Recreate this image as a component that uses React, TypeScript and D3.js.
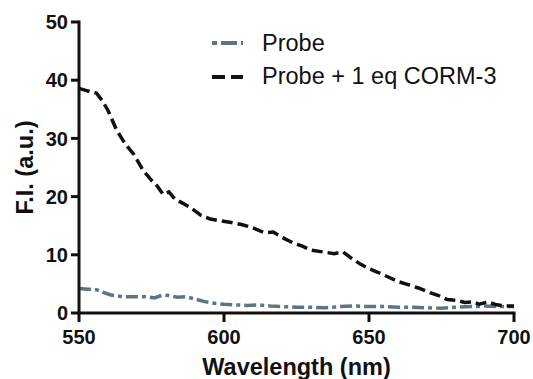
import * as d3 from "d3";

const wavelengthsCorm = [
  550, 552, 554, 556, 558, 560, 563, 566, 569, 572, 575, 577, 579, 581, 583,
  586, 589, 592, 595, 598, 602, 606, 609, 612, 614, 617, 620, 624, 627, 630,
  634, 638, 641, 644, 647, 650, 653, 657, 660, 664, 667, 671, 674, 677, 680,
  683, 686, 688, 691, 694, 697, 700,
];
const valuesCorm = [
  38.6, 38.3, 38.0, 37.8, 36.5, 34.8, 31.4, 29.0, 27.2, 24.6, 22.8, 21.8, 20.4,
  20.8, 19.6, 18.8, 17.9, 16.8, 16.2, 15.9, 15.6, 15.2, 14.8, 14.2, 13.8, 13.9,
  13.0, 12.0, 11.5, 10.8, 10.5, 10.2, 10.5, 9.4, 8.4, 7.6, 7.0, 6.1, 5.4, 4.8,
  4.3, 3.5, 3.0, 2.3, 2.2, 1.8, 1.9, 1.5, 1.9, 1.4, 1.2, 1.2,
];

const wavelengthsProbe = [
  550, 553, 556, 558, 561, 565, 569, 573, 576, 579, 581, 584, 587, 590, 593,
  596, 600, 604, 608, 612, 616, 620, 625, 630, 635, 640, 645, 650, 655, 660,
  665, 670, 675, 680, 685, 690, 695, 700,
];
const valuesProbe = [
  4.2, 4.1, 4.0, 3.6, 3.1, 2.8, 2.8, 2.8, 2.6, 3.1, 3.0, 2.7, 2.8, 2.4, 2.0,
  1.7, 1.5, 1.4, 1.3, 1.4, 1.2, 1.1, 1.0, 1.0, 0.9, 1.1, 1.2, 1.1, 1.1, 1.0,
  1.0, 0.9, 0.8, 1.0, 1.1, 1.2, 1.1, 1.1,
];

const xTicks = [550, 600, 650, 700];
const yTicks = [0, 10, 20, 30, 40, 50];
const seriesNames = ["Probe", "Probe + 1 eq CORM-3"];

const width = 533;
const height = 379;
const margin = { top: 22, right: 19, bottom: 66, left: 79 };
const font = "'Liberation Sans', Arial, sans-serif";
const probeColor = "#5f7482";

export default function App() {
  const x = d3
    .scaleLinear()
    .domain([550, 700])
    .range([margin.left, width - margin.right]);
  const y = d3
    .scaleLinear()
    .domain([0, 50])
    .range([height - margin.bottom, margin.top]);

  const line = d3
    .line<[number, number]>()
    .x((d) => x(d[0]))
    .y((d) => y(d[1]));

  const cormPath = line(wavelengthsCorm.map((w, i) => [w, valuesCorm[i]])) || "";
  const probePath = line(wavelengthsProbe.map((w, i) => [w, valuesProbe[i]])) || "";

  const x0 = x(550);
  const y0 = y(0);

  return (
    <svg
      width={width}
      height={height}
      style={{ position: "absolute", left: 0, top: 0, background: "#fff" }}
      fontFamily={font}
    >
      {/* data */}
      <path
        d={probePath}
        fill="none"
        stroke={probeColor}
        strokeWidth={3.5}
        strokeDasharray="12 4 4 4"
      />
      <path
        d={cormPath}
        fill="none"
        stroke="#111"
        strokeWidth={3.5}
        strokeDasharray="11 5"
      />

      {/* y axis */}
      <line x1={x0} x2={x0} y1={y(50) - 1.5} y2={y0 + 1.5} stroke="#111" strokeWidth={3} />
      {yTicks.map((t) => (
        <g key={t} transform={`translate(0, ${y(t)})`}>
          <line x1={x0 - 8} x2={x0} stroke="#111" strokeWidth={3} />
          <text
            x={x0 - 11}
            dy="0.36em"
            textAnchor="end"
            fontSize={20}
            fontWeight="bold"
            fill="#111"
          >
            {t}
          </text>
        </g>
      ))}

      {/* x axis */}
      <line x1={x0 - 1.5} x2={x(700) + 1.5} y1={y0} y2={y0} stroke="#111" strokeWidth={3} />
      {xTicks.map((t) => (
        <g key={t} transform={`translate(${x(t)}, 0)`}>
          <line y1={y0} y2={y0 + 9} stroke="#111" strokeWidth={3} />
          <text
            y={y0 + 31}
            textAnchor="middle"
            fontSize={20}
            fontWeight="bold"
            fill="#111"
          >
            {t}
          </text>
        </g>
      ))}

      {/* axis titles */}
      <text
        x={(x0 + x(700)) / 2}
        y={375}
        textAnchor="middle"
        fontSize={23.5}
        fontWeight="bold"
        fill="#111"
      >
        Wavelength (nm)
      </text>
      <text
        transform={`translate(33, ${(y(0) + y(50)) / 2}) rotate(-90)`}
        textAnchor="middle"
        fontSize={23.5}
        fontWeight="bold"
        fill="#111"
      >
        F.I. (a.u.)
      </text>

      {/* legend */}
      <g>
        <line x1={212} x2={243} y1={43} y2={43} stroke={probeColor} strokeWidth={4} strokeDasharray="5 4 16 4" />
        <text x={262} y={51} fontSize={23.5} fill="#111">
          {seriesNames[0]}
        </text>
        <line x1={212} x2={243} y1={77} y2={77} stroke="#111" strokeWidth={4} strokeDasharray="13 6" />
        <text x={262} y={84} fontSize={23.5} fill="#111">
          {seriesNames[1]}
        </text>
      </g>
    </svg>
  );
}
